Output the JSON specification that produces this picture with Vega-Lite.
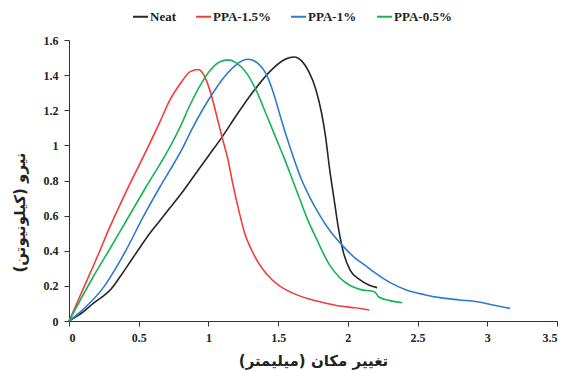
{
  "$schema": "https://vega.github.io/schema/vega-lite/v6.json",
  "width": 488,
  "height": 281,
  "autosize": "none",
  "padding": {"left": 69, "top": 40, "right": 11, "bottom": 50},
  "background": "white",
  "config": {"view": {"stroke": null}, "axis": {"grid": false}},
  "data": {"values": [
    {"s":"Neat","x":0,"y":0},{"s":"Neat","x":0.1,"y":0.05},{"s":"Neat","x":0.174,"y":0.1},{"s":"Neat","x":0.25,"y":0.145},{"s":"Neat","x":0.294,"y":0.175},{"s":"Neat","x":0.366,"y":0.252},{"s":"Neat","x":0.45,"y":0.35},{"s":"Neat","x":0.51,"y":0.42},{"s":"Neat","x":0.58,"y":0.5},{"s":"Neat","x":0.65,"y":0.57},{"s":"Neat","x":0.72,"y":0.64},{"s":"Neat","x":0.8,"y":0.72},{"s":"Neat","x":0.9,"y":0.83},{"s":"Neat","x":1.0,"y":0.94},{"s":"Neat","x":1.1,"y":1.05},{"s":"Neat","x":1.2,"y":1.17},{"s":"Neat","x":1.32,"y":1.305},{"s":"Neat","x":1.44,"y":1.42},{"s":"Neat","x":1.537,"y":1.485},{"s":"Neat","x":1.614,"y":1.503},{"s":"Neat","x":1.67,"y":1.48},{"s":"Neat","x":1.72,"y":1.42},{"s":"Neat","x":1.77,"y":1.32},{"s":"Neat","x":1.81,"y":1.19},{"s":"Neat","x":1.84,"y":1.05},{"s":"Neat","x":1.87,"y":0.86},{"s":"Neat","x":1.9,"y":0.7},{"s":"Neat","x":1.93,"y":0.54},{"s":"Neat","x":1.97,"y":0.385},{"s":"Neat","x":2.016,"y":0.29},{"s":"Neat","x":2.09,"y":0.233},{"s":"Neat","x":2.15,"y":0.205},{"s":"Neat","x":2.21,"y":0.19},
    {"s":"PPA-1.5%","x":0,"y":0},{"s":"PPA-1.5%","x":0.1,"y":0.18},{"s":"PPA-1.5%","x":0.2,"y":0.36},{"s":"PPA-1.5%","x":0.294,"y":0.537},{"s":"PPA-1.5%","x":0.4,"y":0.72},{"s":"PPA-1.5%","x":0.557,"y":0.974},{"s":"PPA-1.5%","x":0.65,"y":1.13},{"s":"PPA-1.5%","x":0.725,"y":1.26},{"s":"PPA-1.5%","x":0.8,"y":1.354},{"s":"PPA-1.5%","x":0.87,"y":1.42},{"s":"PPA-1.5%","x":0.928,"y":1.432},{"s":"PPA-1.5%","x":0.96,"y":1.41},{"s":"PPA-1.5%","x":0.99,"y":1.36},{"s":"PPA-1.5%","x":1.03,"y":1.26},{"s":"PPA-1.5%","x":1.065,"y":1.15},{"s":"PPA-1.5%","x":1.1,"y":1.04},{"s":"PPA-1.5%","x":1.14,"y":0.92},{"s":"PPA-1.5%","x":1.17,"y":0.8},{"s":"PPA-1.5%","x":1.2,"y":0.69},{"s":"PPA-1.5%","x":1.23,"y":0.59},{"s":"PPA-1.5%","x":1.26,"y":0.5},{"s":"PPA-1.5%","x":1.3,"y":0.42},{"s":"PPA-1.5%","x":1.36,"y":0.33},{"s":"PPA-1.5%","x":1.42,"y":0.265},{"s":"PPA-1.5%","x":1.51,"y":0.2},{"s":"PPA-1.5%","x":1.6,"y":0.16},{"s":"PPA-1.5%","x":1.73,"y":0.124},{"s":"PPA-1.5%","x":1.85,"y":0.1},{"s":"PPA-1.5%","x":1.944,"y":0.085},{"s":"PPA-1.5%","x":2.05,"y":0.075},{"s":"PPA-1.5%","x":2.154,"y":0.063},
    {"s":"PPA-1%","x":0,"y":0},{"s":"PPA-1%","x":0.1,"y":0.065},{"s":"PPA-1%","x":0.246,"y":0.19},{"s":"PPA-1%","x":0.4,"y":0.39},{"s":"PPA-1%","x":0.533,"y":0.594},{"s":"PPA-1%","x":0.65,"y":0.76},{"s":"PPA-1%","x":0.725,"y":0.86},{"s":"PPA-1%","x":0.808,"y":0.974},{"s":"PPA-1%","x":0.88,"y":1.09},{"s":"PPA-1%","x":0.963,"y":1.21},{"s":"PPA-1%","x":1.05,"y":1.32},{"s":"PPA-1%","x":1.13,"y":1.405},{"s":"PPA-1%","x":1.2,"y":1.46},{"s":"PPA-1%","x":1.286,"y":1.49},{"s":"PPA-1%","x":1.35,"y":1.47},{"s":"PPA-1%","x":1.418,"y":1.4},{"s":"PPA-1%","x":1.47,"y":1.29},{"s":"PPA-1%","x":1.514,"y":1.17},{"s":"PPA-1%","x":1.56,"y":1.05},{"s":"PPA-1%","x":1.61,"y":0.93},{"s":"PPA-1%","x":1.66,"y":0.82},{"s":"PPA-1%","x":1.73,"y":0.7},{"s":"PPA-1%","x":1.8,"y":0.6},{"s":"PPA-1%","x":1.87,"y":0.515},{"s":"PPA-1%","x":1.944,"y":0.445},{"s":"PPA-1%","x":2.05,"y":0.36},{"s":"PPA-1%","x":2.136,"y":0.31},{"s":"PPA-1%","x":2.183,"y":0.281},{"s":"PPA-1%","x":2.3,"y":0.22},{"s":"PPA-1%","x":2.42,"y":0.177},{"s":"PPA-1%","x":2.55,"y":0.15},{"s":"PPA-1%","x":2.66,"y":0.133},{"s":"PPA-1%","x":2.8,"y":0.12},{"s":"PPA-1%","x":2.925,"y":0.11},{"s":"PPA-1%","x":3.05,"y":0.09},{"s":"PPA-1%","x":3.163,"y":0.072},
    {"s":"PPA-0.5%","x":0,"y":0},{"s":"PPA-0.5%","x":0.174,"y":0.252},{"s":"PPA-0.5%","x":0.3,"y":0.42},{"s":"PPA-0.5%","x":0.414,"y":0.575},{"s":"PPA-0.5%","x":0.55,"y":0.76},{"s":"PPA-0.5%","x":0.712,"y":0.974},{"s":"PPA-0.5%","x":0.8,"y":1.11},{"s":"PPA-0.5%","x":0.868,"y":1.23},{"s":"PPA-0.5%","x":0.94,"y":1.34},{"s":"PPA-0.5%","x":1.01,"y":1.425},{"s":"PPA-0.5%","x":1.08,"y":1.475},{"s":"PPA-0.5%","x":1.143,"y":1.487},{"s":"PPA-0.5%","x":1.2,"y":1.47},{"s":"PPA-0.5%","x":1.275,"y":1.41},{"s":"PPA-0.5%","x":1.35,"y":1.3},{"s":"PPA-0.5%","x":1.418,"y":1.17},{"s":"PPA-0.5%","x":1.48,"y":1.05},{"s":"PPA-0.5%","x":1.537,"y":0.94},{"s":"PPA-0.5%","x":1.6,"y":0.81},{"s":"PPA-0.5%","x":1.657,"y":0.69},{"s":"PPA-0.5%","x":1.71,"y":0.58},{"s":"PPA-0.5%","x":1.777,"y":0.465},{"s":"PPA-0.5%","x":1.824,"y":0.385},{"s":"PPA-0.5%","x":1.872,"y":0.315},{"s":"PPA-0.5%","x":1.944,"y":0.245},{"s":"PPA-0.5%","x":1.99,"y":0.215},{"s":"PPA-0.5%","x":2.087,"y":0.18},{"s":"PPA-0.5%","x":2.19,"y":0.167},{"s":"PPA-0.5%","x":2.205,"y":0.155},{"s":"PPA-0.5%","x":2.219,"y":0.138},{"s":"PPA-0.5%","x":2.3,"y":0.116},{"s":"PPA-0.5%","x":2.39,"y":0.104}
  ]},
  "mark": {"type": "line", "strokeWidth": 1.6, "interpolate": "monotone"},
  "encoding": {
    "x": {"field": "x", "type": "quantitative",
      "scale": {"domain": [0, 3.5], "nice": false},
      "axis": {"values": [0,0.5,1,1.5,2,2.5,3,3.5], "format": ".1~f", "title": "تغییر مکان (میلیمتر)",
        "domainColor": "#333", "tickColor": "#333", "tickSize": 5, "labelFont": "Liberation Serif", "labelFontWeight": "bold", "labelFontSize": 12, "labelColor": "#222", "labelPadding": 6,
        "titleFont": "DejaVu Sans", "titleFontWeight": "bold", "titleFontSize": 15, "titleColor": "#222", "titlePadding": 10}},
    "y": {"field": "y", "type": "quantitative",
      "scale": {"domain": [0, 1.6], "nice": false},
      "axis": {"values": [0,0.2,0.4,0.6,0.8,1,1.2,1.4,1.6], "format": ".1~f", "title": "نیرو (کیلونیوتن)",
        "domainColor": "#333", "tickColor": "#333", "tickSize": 5, "labelFont": "Liberation Serif", "labelFontWeight": "bold", "labelFontSize": 12, "labelColor": "#222", "labelPadding": 6,
        "titleFont": "DejaVu Sans", "titleFontWeight": "bold", "titleFontSize": 15, "titleColor": "#222", "titlePadding": 16, "titleY": 172}},
    "color": {"field": "s", "type": "nominal",
      "scale": {"domain": ["Neat","PPA-1.5%","PPA-1%","PPA-0.5%"], "range": ["#262626","#f53b3b","#2e7bcf","#16b455"]},
      "legend": {"title": null, "orient": "none", "direction": "horizontal", "legendX": 63, "legendY": -32,
        "symbolType": "stroke", "symbolSize": 225, "symbolStrokeWidth": 2, "labelFont": "Liberation Serif", "labelFontWeight": "bold", "labelFontSize": 13, "labelColor": "#222", "labelOffset": 1, "columnPadding": 16}}
  }
}
